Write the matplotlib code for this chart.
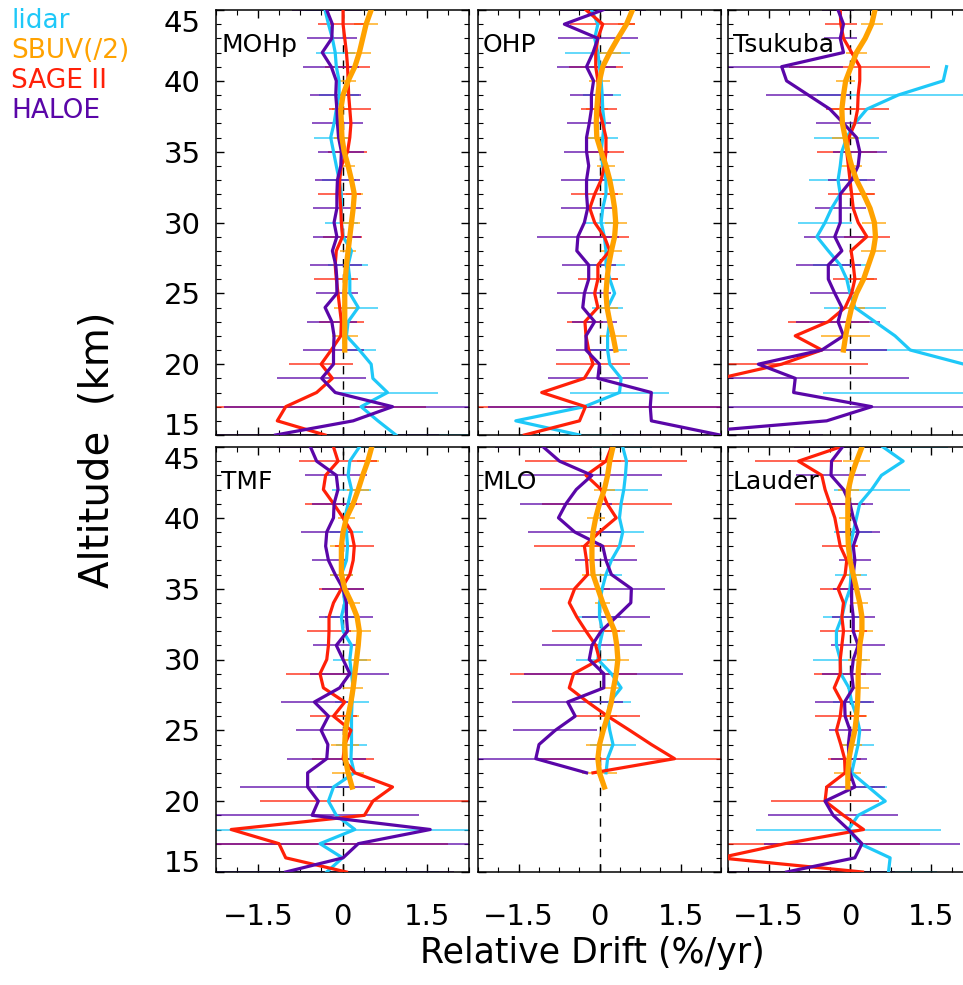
import numpy as np
import matplotlib
matplotlib.use("Agg")
import matplotlib.pyplot as plt
from matplotlib.ticker import MultipleLocator

# altitude grid (km), top to bottom
alt = np.arange(45, 14, -1)          # 45 ... 15
alt_sbuv = np.arange(45, 20, -1)     # 45 ... 21
# altitudes where error bars are drawn for each instrument
bar_lidar = np.arange(45, 14, -3)
bar_sage = np.arange(44, 16, -3)
bar_sbuv = np.arange(44, 21, -2)
bar_haloe = np.arange(45, 14, -2)

stations = ["MOHp", "OHP", "Tsukuba", "TMF", "MLO", "Lauder"]
nan = np.nan

# relative drift (%/yr), 45 km down to 15 km
mohp_lidar = [-0.31, -0.25, -0.18, -0.13, -0.11, -0.06, -0.06, -0.11, -0.15, -0.21, -0.16, -0.11, -0.06, -0.02, -0.02, -0.02,
              0.01, 0.16, 0.10, 0.13, 0.13, 0.28, 0.10, 0.07, 0.30, 0.51, 0.54, 0.80, 0.33, 0.63, 0.95]
mohp_sage = [0.01, 0.01, 0.04, 0.07, 0.09, 0.10, 0.11, 0.13, 0.15, 0.13, 0.09, -0.02, -0.05, -0.05, -0.03, -0.02,
             0.0, -0.11, -0.13, -0.11, -0.08, -0.05, -0.02, -0.03, -0.2, -0.38, -0.18, -0.46, -1.01, -1.16, -0.31]
mohp_haloe = [-0.28, -0.18, -0.19, -0.36, -0.2, -0.11, -0.12, -0.1, -0.09, -0.07, -0.02, -0.03, -0.09, -0.1, -0.1, -0.15,
              -0.1, -0.18, -0.12, -0.1, -0.1, -0.31, -0.19, -0.15, -0.16, -0.16, -0.37, -0.13, 0.89, 0.19, -1.19]
mohp_sbuv = [0.51, 0.42, 0.36, 0.30, 0.22, 0.10, 0.01, -0.03, -0.02, -0.01, 0.03, 0.10, 0.16, 0.21, 0.19, 0.16,
             0.13, 0.10, 0.07, 0.05, 0.04, 0.04, 0.04, 0.04, 0.04]

ohp_lidar = [-0.15, -0.03, -0.09, -0.03, 0.0, 0.03, 0.05, 0.06, 0.09, 0.06, 0.03, 0.06, 0.12, 0.12, 0.06, 0.03,
             0.09, 0.12, 0.12, 0.19, 0.28, 0.15, 0.19, 0.15, 0.15, 0.19, 0.40, 0.37, -0.28, -1.55, -0.37]
ohp_sage = [-0.25, 0.06, -0.03, -0.07, -0.07, -0.03, 0.0, -0.01, 0.06, 0.12, 0.12, 0.09, 0.03, -0.09, -0.18, -0.09,
            0.09, 0.19, -0.03, -0.03, -0.09, -0.03, -0.27, -0.25, -0.2, -0.12, -0.28, -1.07, -0.26, -0.37, -1.39]
ohp_haloe = [0.06, -0.65, -0.03, -0.12, -0.24, -0.11, -0.15, -0.15, -0.19, -0.24, -0.24, -0.2, -0.24, -0.24, -0.22, -0.28,
             -0.40, -0.42, -0.20, -0.20, -0.28, -0.31, -0.09, -0.25, -0.25, 0.0, -0.03, 0.96, 0.94, 0.96, 2.23]
ohp_sbuv = [0.61, 0.5, 0.34, 0.19, 0.06, 0.0, -0.03, -0.05, -0.06, -0.05, 0.03, 0.12, 0.19, 0.24, 0.28, 0.30,
            0.28, 0.22, 0.17, 0.14, 0.12, 0.14, 0.19, 0.25, 0.30]

tsukuba_lidar = [nan, nan, nan, nan, 1.78, 1.72, 0.89, 0.31, 0.09, -0.06, -0.15, -0.18, -0.22, -0.18, -0.34, -0.46,
                 -0.61, -0.4, -0.18, -0.06, 0.0, 0.09, 0.46, 0.83, 1.11, 2.1, 2.6, 2.8, nan, nan, nan]
tsukuba_sage = [-0.18, -0.17, -0.12, 0.03, 0.18, 0.18, 0.15, 0.14, 0.09, -0.02, -0.06, -0.03, 0.0, 0.03, 0.06, 0.15,
                0.31, 0.02, 0.06, 0.09, 0.03, -0.09, -0.4, -1.01, -0.52, -1.26, -2.4, nan, nan, nan, nan]
tsukuba_haloe = [-0.22, -0.12, -0.18, -0.12, -1.26, -1.17, -0.77, -0.37, -0.12, 0.12, 0.18, 0.15, 0.03, -0.18, -0.18, -0.18,
                 -0.28, -0.15, -0.4, -0.4, -0.28, -0.15, -0.22, -0.12, -0.52, -1.69, -1.01, -1.04, 0.40, -0.43, -3.5]
tsukuba_sbuv = [0.46, 0.40, 0.28, 0.12, 0.02, -0.08, -0.12, -0.15, -0.14, -0.09, -0.04, 0.03, 0.12, 0.25, 0.37, 0.45,
                0.47, 0.43, 0.34, 0.25, 0.12, 0.03, -0.03, -0.08, -0.12]

tmf_lidar = [0.30, 0.13, 0.10, 0.16, 0.10, 0.04, 0.07, 0.09, 0.07, -0.02, 0.01, 0.04, -0.02, 0.01, 0.16, 0.13,
             0.16, 0.19, 0.17, 0.16, 0.16, 0.16, 0.15, 0.21, -0.16, -0.25, -0.11, 0.22, -0.4, 0.0, -0.28]
tmf_sage = [-0.16, -0.08, -0.3, -0.34, -0.16, 0.01, 0.16, 0.21, 0.19, 0.13, -0.02, -0.16, -0.24, -0.24, -0.25, -0.28,
            -0.4, -0.34, 0.04, -0.16, 0.15, 0.04, 0.01, 0.22, 0.89, 0.54, 0.39, -1.98, -1.13, -1.01, 0.07]
tmf_haloe = [-0.57, -0.46, -0.11, -0.08, -0.15, -0.16, -0.28, -0.3, -0.25, -0.13, 0.01, 0.07, 0.07, 0.09, -0.11, 0.01,
             0.13, -0.05, -0.5, -0.25, -0.38, -0.26, -0.28, -0.62, -0.62, -0.43, -0.54, 1.56, 0.28, 0.01, -1.01]
tmf_sbuv = [0.52, 0.45, 0.36, 0.28, 0.19, 0.07, 0.01, -0.02, -0.02, -0.02, 0.04, 0.16, 0.26, 0.30, 0.28, 0.25,
            0.22, 0.19, 0.15, 0.10, 0.05, 0.04, 0.05, 0.10, 0.17]

mlo_lidar = [0.43, 0.5, 0.48, 0.45, 0.40, 0.37, 0.43, 0.37, 0.22, 0.12, 0.05, 0.0, 0.0, 0.06, 0.0, -0.03,
             0.22, 0.40, 0.19, 0.15, 0.19, 0.25, 0.15, 0.12, nan, nan, nan, nan, nan, nan, nan]
mlo_sage = [0.22, 0.12, -0.25, 0.03, 0.14, 0.31, 0.0, -0.28, -0.24, -0.22, -0.46, -0.56, -0.42, -0.25, -0.07, 0.0,
            -0.48, -0.56, -0.22, 0.15, 0.56, 0.96, 1.39, -0.12, nan, nan, nan, nan, nan, nan, nan]
mlo_haloe = [-1.04, -0.74, -0.14, -0.43, -0.62, -0.76, -0.46, 0.06, 0.12, 0.22, 0.59, 0.58, 0.31, 0.03, -0.14, -0.19,
             0.08, 0.08, -0.59, -0.45, -0.82, -1.12, -1.18, -0.24, nan, nan, nan, nan, nan, nan, nan]
mlo_sbuv = [0.25, 0.19, 0.15, 0.09, 0.0, -0.07, -0.12, -0.14, -0.14, -0.12, -0.03, 0.06, 0.17, 0.28, 0.32, 0.34,
            0.31, 0.26, 0.22, 0.15, 0.07, 0.0, -0.03, 0.0, 0.09]

lauder_lidar = [0.61, 0.98, 0.58, 0.40, 0.18, 0.12, 0.06, 0.0, 0.02, 0.02, 0.0, -0.09, -0.15, -0.25, -0.25, -0.18,
                -0.17, -0.02, 0.03, 0.12, 0.18, 0.15, 0.09, 0.03, 0.34, 0.65, 0.15, -0.03, 0.18, 0.74, 0.71]
lauder_sage = [-0.18, -0.95, -0.52, -0.46, -0.37, -0.28, -0.23, -0.18, -0.06, -0.09, -0.22, -0.12, -0.15, -0.12, -0.15, -0.18,
               -0.18, -0.29, -0.15, -0.18, -0.25, -0.17, -0.1, -0.09, -0.43, -0.46, -0.12, 0.25, -1.2, -2.4, 0.23]
lauder_haloe = [-0.14, -0.34, -0.35, -0.12, 0.0, 0.06, 0.15, 0.06, 0.09, 0.06, 0.03, 0.03, 0.06, 0.06, 0.15, 0.06,
                0.03, 0.06, -0.1, -0.09, 0.0, -0.03, -0.02, 0.0, 0.09, -0.46, -0.31, -0.03, 0.22, 0.09, -1.17]
lauder_sbuv = [0.22, 0.12, 0.03, -0.03, -0.04, -0.04, -0.04, -0.03, 0.0, 0.06, 0.12, 0.18, 0.22, 0.22, 0.18, 0.17,
               0.15, 0.15, 0.14, 0.12, 0.09, 0.03, -0.02, -0.04, -0.04]

# error bar half-widths (%/yr) at the bar altitudes above
mohp_lidar_err = [0.35, 0.35, 0.35, 0.3, 0.3, 0.3, 0.35, 0.35, 0.3, 0.9, 1.5]
mohp_sage_err = [0.44, 0.4, 0.37, 0.35, 0.38, 0.35, 0.39, 0.4, 0.57, 2.5]
mohp_sbuv_err = [0.21, 0.2, 0.14, 0.15, 0.15, 0.12, 0.15, 0.15, 0.14, 0.15, 0.2, 0.23]
mohp_haloe_err = [0.62, 0.45, 0.5, 0.45, 0.45, 0.41, 0.4, 0.43, 0.43, 0.46, 0.37, 0.44, 0.54, 0.79, 3.0, 2.9]

ohp_lidar_err = [0.35, 0.6, 0.35, 0.28, 0.35, 0.34, 0.35, 0.28, 0.35, 0.92, 1.0]
ohp_sage_err = [0.6, 0.5, 0.33, 0.34, 0.44, 0.45, 0.37, 0.33, 0.68, 2.5]
ohp_sbuv_err = [0.15, 0.2, 0.19, 0.2, 0.2, 0.17, 0.2, 0.2, 0.2, 0.2, 0.2, 0.25]
ohp_haloe_err = [0.8, 0.74, 0.54, 0.4, 0.41, 0.42, 0.48, 0.5, 0.76, 0.5, 0.5, 0.42, 0.55, 0.93, 3.0, 2.0]

tsukuba_lidar_err = [0.3, 0.3, 1.5, 0.6, 0.53, 0.5, 0.5, 0.57, 1.2, 3.3, 0.3]
tsukuba_sage_err = [0.3, 1.3, 0.58, 0.55, 0.43, 0.42, 0.4, 0.75, 1.6, 2.5]
tsukuba_sbuv_err = [0.2, 0.2, 0.17, 0.25, 0.25, 0.2, 0.2, 0.22, 0.23, 0.2, 0.25, 0.45]
tsukuba_haloe_err = [0.3, 0.3, 1.14, 0.77, 0.5, 0.5, 0.44, 0.47, 0.57, 0.6, 0.45, 0.77, 1.2, 2.1, 3.0, 3.0]

tmf_lidar_err = [0.5, 0.35, 0.3, 0.2, 0.3, 0.3, 0.3, 0.28, 0.3, 2.5, 2.0]
tmf_sage_err = [0.7, 0.5, 0.35, 0.4, 0.4, 0.6, 0.42, 0.55, 2.0, 3.0]
tmf_sbuv_err = [0.2, 0.2, 0.15, 0.2, 0.2, 0.15, 0.2, 0.25, 0.18, 0.2, 0.25, 0.28]
tmf_haloe_err = [0.6, 0.55, 0.4, 0.45, 0.3, 0.37, 0.48, 0.42, 0.7, 0.6, 0.45, 0.7, 1.2, 1.9, 3.0, 3.0]

mlo_lidar_err = [0.55, 0.45, 0.4, 0.3, 0.4, 0.4, 0.4, 0.43, 0.4, 0.4, 0.4]
mlo_sage_err = [1.5, 1.2, 0.93, 0.65, 0.63, 1.17, 0.6, 2.5, 0.5, 0.5]
mlo_sbuv_err = [0.2, 0.2, 0.17, 0.2, 0.2, 0.14, 0.2, 0.2, 0.15, 0.18, 0.25, 0.32]
mlo_haloe_err = [0.9, 1.3, 0.86, 0.86, 0.58, 0.62, 0.63, 0.92, 1.47, 1.03, 0.78, 1.2, 0.5, 0.5, 0.5, 0.5]

lauder_lidar_err = [1.2, 0.7, 0.35, 0.3, 0.35, 0.5, 0.35, 0.3, 0.35, 1.7, 0.9]
lauder_sage_err = [0.8, 0.65, 0.33, 0.33, 0.44, 0.48, 0.47, 0.3, 1.0, 2.5]
lauder_sbuv_err = [0.25, 0.2, 0.17, 0.15, 0.15, 0.15, 0.2, 0.2, 0.2, 0.2, 0.2, 0.25]
lauder_haloe_err = [0.9, 0.65, 0.42, 0.4, 0.29, 0.35, 0.4, 0.5, 0.55, 0.55, 0.38, 0.33, 0.55, 1.2, 1.8, 2.0]

profiles = {
    "MOHp": (mohp_lidar, mohp_sbuv, mohp_sage, mohp_haloe),
    "OHP": (ohp_lidar, ohp_sbuv, ohp_sage, ohp_haloe),
    "Tsukuba": (tsukuba_lidar, tsukuba_sbuv, tsukuba_sage, tsukuba_haloe),
    "TMF": (tmf_lidar, tmf_sbuv, tmf_sage, tmf_haloe),
    "MLO": (mlo_lidar, mlo_sbuv, mlo_sage, mlo_haloe),
    "Lauder": (lauder_lidar, lauder_sbuv, lauder_sage, lauder_haloe),
}
errors = {
    "MOHp": (mohp_lidar_err, mohp_sbuv_err, mohp_sage_err, mohp_haloe_err),
    "OHP": (ohp_lidar_err, ohp_sbuv_err, ohp_sage_err, ohp_haloe_err),
    "Tsukuba": (tsukuba_lidar_err, tsukuba_sbuv_err, tsukuba_sage_err, tsukuba_haloe_err),
    "TMF": (tmf_lidar_err, tmf_sbuv_err, tmf_sage_err, tmf_haloe_err),
    "MLO": (mlo_lidar_err, mlo_sbuv_err, mlo_sage_err, mlo_haloe_err),
    "Lauder": (lauder_lidar_err, lauder_sbuv_err, lauder_sage_err, lauder_haloe_err),
}

C_LIDAR = "#1ec8f8"
C_SBUV = "#ffa200"
C_SAGE = "#ff2008"
C_HALOE = "#5a06a8"

W, H = 963, 985
fig = plt.figure(figsize=(W / 100, H / 100), dpi=100)
plt.rcParams["font.family"] = ["DejaVu Sans"]

# panel boxes in pixels (left, right) / (top, bottom)
cols = [(216, 469), (478, 721), (728, 972)]
rows = [(10, 435), (447, 872)]


def at(profile, alts, bar_alts):
    p = np.asarray(profile, dtype=float)
    idx = [int(np.where(alts == a)[0][0]) for a in bar_alts]
    return p[idx]


for k, name in enumerate(stations):
    r, c = divmod(k, 3)
    (x0, x1), (y0, y1) = cols[c], rows[r]
    ax = fig.add_axes([x0 / W, 1 - y1 / H, (x1 - x0) / W, (y1 - y0) / H])
    lid, sbuv, sage, hal = profiles[name]
    e_lid, e_sbuv, e_sage, e_hal = errors[name]

    ax.axvline(0, color="black", lw=1.0, ls=(0, (6, 5)), zorder=1)

    # error bars
    for prof, alts, balts, err, col in [(lid, alt, bar_lidar, e_lid, C_LIDAR),
                                        (sbuv, alt_sbuv, bar_sbuv, e_sbuv, C_SBUV),
                                        (sage, alt, bar_sage, e_sage, C_SAGE),
                                        (hal, alt, bar_haloe, e_hal, C_HALOE)]:
        ax.errorbar(at(prof, alts, balts), balts, xerr=err, fmt="none",
                    ecolor=col, elinewidth=1.3, capsize=0, alpha=0.75, zorder=2)

    # profiles
    ax.plot(lid, alt, color=C_LIDAR, lw=2.3, zorder=3)
    ax.plot(sage, alt, color=C_SAGE, lw=2.3, zorder=4)
    ax.plot(hal, alt, color=C_HALOE, lw=2.3, zorder=5)
    ax.plot(sbuv, alt_sbuv, color=C_SBUV, lw=3.8, zorder=6)

    ax.set_xlim(-2.25, 2.25)
    ax.set_ylim(15, 45)
    ax.xaxis.set_major_locator(MultipleLocator(1.5))
    ax.xaxis.set_minor_locator(MultipleLocator(0.375))
    ax.yaxis.set_major_locator(MultipleLocator(5))
    ax.yaxis.set_minor_locator(MultipleLocator(1))
    ax.tick_params(which="both", direction="in", top=True, right=True, color="black")
    ax.tick_params(which="major", length=6, width=1)
    ax.tick_params(which="minor", length=3.5, width=0.8)
    for s in ax.spines.values():
        s.set_linewidth(1.1)

    ax.text(0.02, 0.945, name, transform=ax.transAxes, fontsize=18, va="top", ha="left", zorder=10)

    if c == 0:
        ax.set_yticks([15, 20, 25, 30, 35, 40, 45])
        ax.set_yticklabels(["15", "20", "25", "30", "35", "40", "45"], fontsize=21)
        ax.tick_params(axis="y", which="major", pad=11)
        labs = ax.get_yticklabels()
        labs[0].set_va("baseline")
        labs[-1].set_va("top")
    else:
        ax.set_yticklabels([])

    if r == 1:
        ax.set_xticks([-1.5, 0, 1.5])
        ax.set_xticklabels(["\u22121.5", "0", "1.5"], fontsize=21)
        ax.tick_params(axis="x", which="major", pad=22)
    else:
        ax.set_xticklabels([])

fig.text(97 / W, 1 - 450 / H, "Altitude  (km)", rotation=90, fontsize=29, ha="center", va="center")
fig.text(592 / W, 1 - 963 / H, "Relative Drift (%/yr)", fontsize=25, ha="center", va="baseline")

for i, (lab, col) in enumerate([("lidar", C_LIDAR), ("SBUV(/2)", C_SBUV),
                                ("SAGE II", C_SAGE), ("HALOE", C_HALOE)]):
    fig.text(11 / W, 1 - (28 + 30 * i) / H, lab, color=col, fontsize=19, ha="left", va="baseline")

fig.savefig("out.png", dpi=100)
